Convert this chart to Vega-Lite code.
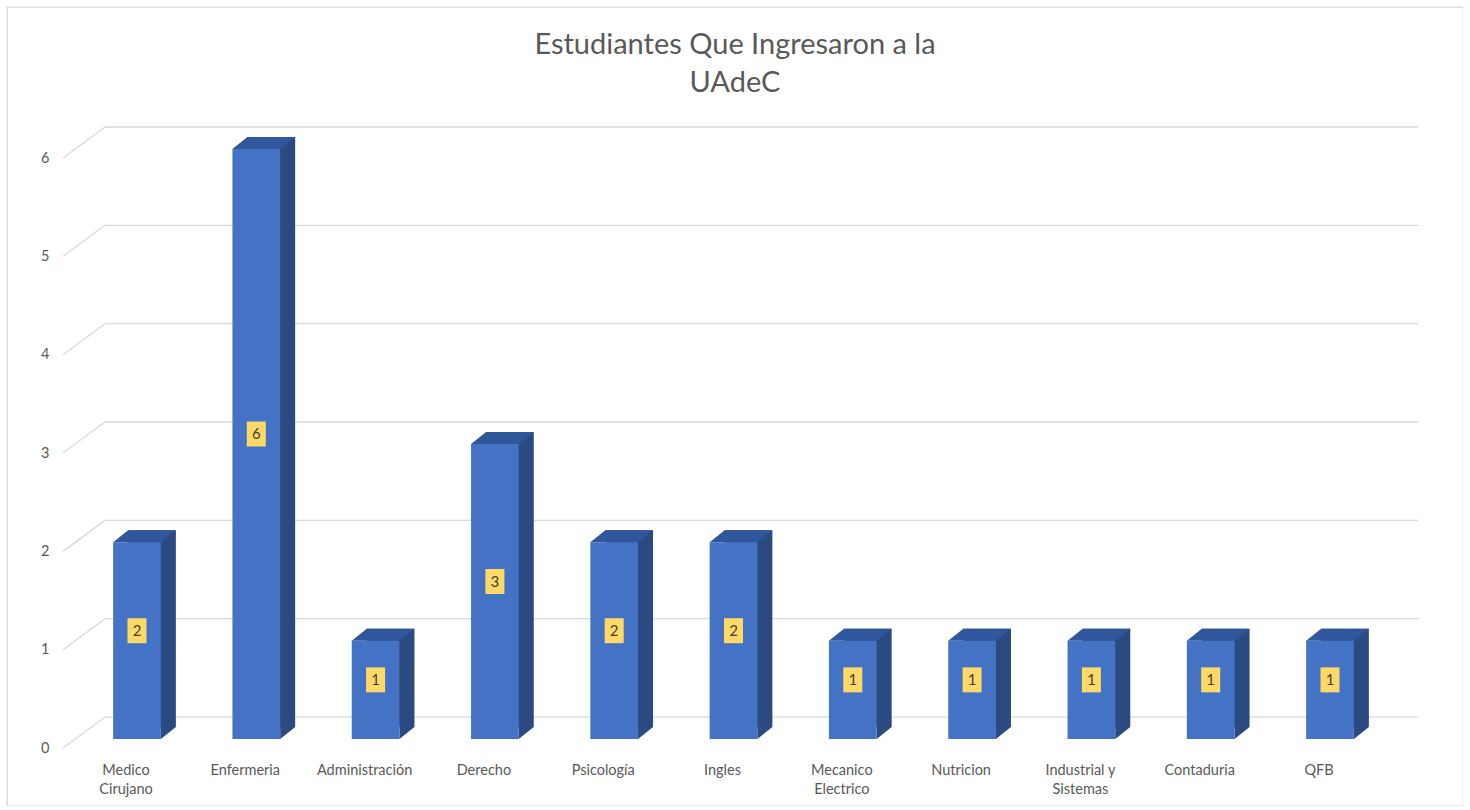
{
  "$schema": "https://vega.github.io/schema/vega-lite/v6.json",
  "width": 1456,
  "height": 799,
  "autosize": {"type": "none"},
  "padding": {"left": 7, "top": 7, "right": 0, "bottom": 0},
  "background": "#ffffff",
  "config": {
    "view": {"stroke": "#d9d9d9", "strokeWidth": 1.3},
    "font": "Lato",
    "axisY": {
      "title": null,
      "domain": false,
      "ticks": false,
      "grid": false,
      "labelFont": "Lato",
      "labelFontSize": 14.5,
      "labelColor": "#595959",
      "labelOffset": 9,
      "labelPadding": 4,
      "offset": -46
    }
  },
  "title": {
    "text": ["Estudiantes Que Ingresaron a la", "UAdeC"],
    "font": "Lato",
    "fontSize": 29,
    "fontWeight": "normal",
    "color": "#595959",
    "anchor": "middle",
    "baseline": "top",
    "lineHeight": 38,
    "offset": -91
  },
  "datasets": {
    "ticks": [{"tick": 0}, {"tick": 1}, {"tick": 2}, {"tick": 3}, {"tick": 4}, {"tick": 5}, {"tick": 6}],
    "carreras": [
      {"carrera": "Medico Cirujano", "n": 2},
      {"carrera": "Enfermeria", "n": 6},
      {"carrera": "Administración", "n": 1},
      {"carrera": "Derecho", "n": 3},
      {"carrera": "Psicología", "n": 2},
      {"carrera": "Ingles", "n": 2},
      {"carrera": "Mecanico Electrico", "n": 1},
      {"carrera": "Nutricion", "n": 1},
      {"carrera": "Industrial y Sistemas", "n": 1},
      {"carrera": "Contaduria", "n": 1},
      {"carrera": "QFB", "n": 1}
    ]
  },
  "resolve": {"scale": {"x": "independent"}},
  "layer": [
    {
      "data": {"name": "ticks"},
      "layer": [
        {
          "mark": {"type": "rule", "color": "#d9d9d9", "strokeWidth": 1.3, "yOffset": -22},
          "encoding": {
            "x": {"datum": 0.06731, "type": "quantitative", "scale": {"domain": [0, 1], "nice": false, "zero": false}, "axis": null},
            "x2": {"datum": 0.96909},
            "y": {"field": "tick", "type": "quantitative", "scale": {"domain": [-0.681, 7.444], "nice": false, "zero": false}, "axis": {"values": [0, 1, 2, 3, 4, 5, 6], "title": null}}
          }
        },
        {
          "mark": {"type": "rule", "color": "#d9d9d9", "strokeWidth": 1.3, "yOffset": 9, "y2Offset": -22},
          "encoding": {
            "x": {"datum": 0.03846, "type": "quantitative", "scale": {"domain": [0, 1], "nice": false, "zero": false}, "axis": null},
            "x2": {"datum": 0.06731},
            "y": {"field": "tick", "type": "quantitative", "scale": {"domain": [-0.681, 7.444], "nice": false, "zero": false}, "axis": {"values": [0, 1, 2, 3, 4, 5, 6], "title": null}},
            "y2": {"field": "tick"}
          }
        }
      ]
    },
    {
      "data": {"name": "carreras"},
      "transform": [{"calculate": "datum.n / 2", "as": "mid"}],
      "encoding": {
        "x": {
          "field": "carrera",
          "type": "nominal",
          "sort": null,
          "scale": {"range": [70.35, 1382.65], "paddingInner": 0.6, "paddingOuter": 0.3},
          "axis": {
            "title": null,
            "domain": false,
            "ticks": false,
            "grid": false,
            "labelAngle": 0,
            "labelFont": "Lato",
            "labelFontSize": 14.5,
            "labelColor": "#595959",
            "labelOffset": -11,
            "labelPadding": 2,
            "labelBaseline": "top",
            "labelLineHeight": 19,
            "offset": -45,
            "labelExpr": "datum.label == 'Industrial y Sistemas' ? ['Industrial y', 'Sistemas'] : split(datum.label, ' ')"
          }
        }
      },
      "layer": [
        {
          "mark": {"type": "bar", "color": "#2b4a82", "xOffset": 15, "x2Offset": 15, "yOffset": -12, "y2Offset": -12},
          "encoding": {
            "y": {"field": "n", "type": "quantitative", "scale": {"domain": [-0.681, 7.444], "nice": false, "zero": false}, "axis": {"values": [0, 1, 2, 3, 4, 5, 6], "title": null}},
            "y2": {"datum": 0}
          }
        },
        {
          "mark": {"type": "point", "shape": "M23.86,0L38.86,-12L23.86,-12Z", "size": 4, "filled": true, "opacity": 1, "color": "#2b4a82", "strokeWidth": 0},
          "encoding": {
            "y": {"datum": 0, "type": "quantitative", "scale": {"domain": [-0.681, 7.444], "nice": false, "zero": false}, "axis": {"values": [0, 1, 2, 3, 4, 5, 6], "title": null}}
          }
        },
        {
          "mark": {"type": "point", "shape": "M-23.86,0L-8.86,-12L38.86,-12L23.86,0Z", "size": 4, "filled": true, "opacity": 1, "color": "#30569c", "strokeWidth": 0},
          "encoding": {
            "y": {"field": "n", "type": "quantitative", "scale": {"domain": [-0.681, 7.444], "nice": false, "zero": false}, "axis": {"values": [0, 1, 2, 3, 4, 5, 6], "title": null}}
          }
        },
        {
          "mark": {"type": "bar", "color": "#4472c4"},
          "encoding": {
            "y": {"field": "n", "type": "quantitative", "scale": {"domain": [-0.681, 7.444], "nice": false, "zero": false}, "axis": {"values": [0, 1, 2, 3, 4, 5, 6], "title": null}},
            "y2": {"datum": 0}
          }
        },
        {
          "mark": {"type": "point", "shape": "M-9.5,-12.5L9.5,-12.5L9.5,12.5L-9.5,12.5Z", "size": 4, "filled": true, "opacity": 1, "color": "#ffd966", "strokeWidth": 0, "yOffset": -10},
          "encoding": {
            "y": {"field": "mid", "type": "quantitative", "scale": {"domain": [-0.681, 7.444], "nice": false, "zero": false}, "axis": {"values": [0, 1, 2, 3, 4, 5, 6], "title": null}}
          }
        },
        {
          "mark": {"type": "text", "font": "Lato", "fontSize": 15, "color": "#404040", "baseline": "middle", "align": "center", "yOffset": -10},
          "encoding": {
            "y": {"field": "mid", "type": "quantitative", "scale": {"domain": [-0.681, 7.444], "nice": false, "zero": false}, "axis": {"values": [0, 1, 2, 3, 4, 5, 6], "title": null}},
            "text": {"field": "n", "type": "quantitative"}
          }
        }
      ]
    }
  ]
}
